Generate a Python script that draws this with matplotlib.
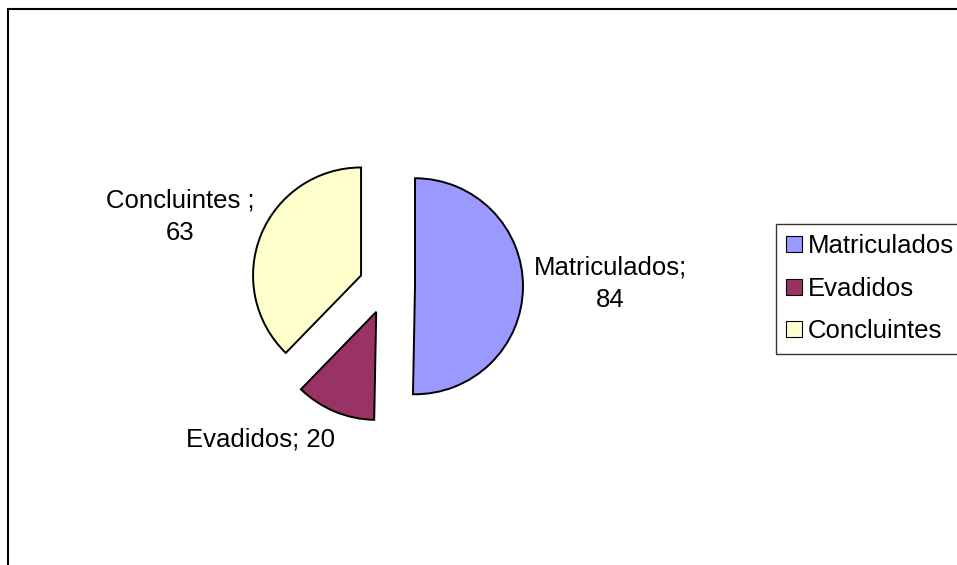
import matplotlib.pyplot as plt
from matplotlib.patches import Rectangle, Patch

categorias = ['Matriculados', 'Evadidos', 'Concluintes']
valores = [84, 20, 63]
cores = ['#9999FF', '#993366', '#FFFFCC']
rotulos = ['Matriculados;\n84', 'Evadidos; 20', 'Concluintes ;\n63']

plt.rcParams['font.family'] = ['Liberation Sans', 'DejaVu Sans']

fig = plt.figure(figsize=(9.57, 5.65), dpi=100)
ax = fig.add_axes([0, 0, 1, 1])

# pie in pixel units (y up); explode is an offset in data units
ax.pie(valores, colors=cores, startangle=90, counterclock=False,
       center=(387, 279), radius=108, explode=[28, 28, 28],
       wedgeprops=dict(edgecolor='black', linewidth=1.4), frame=True)
ax.set_xlim(0, 957)
ax.set_ylim(0, 565)
ax.set_aspect('equal')
ax.axis('off')

# data labels
pos_rotulos = [(610, 281), (261, 125), (180, 348)]
for txt, (x, y) in zip(rotulos, pos_rotulos):
    ax.text(x, y, txt, ha='center', va='center', fontsize=18.5, linespacing=1.45)

# outer chart border
ax.add_patch(Rectangle((7.5, -20), 1000, 576.5, fill=False, edgecolor='black',
                       linewidth=1.5, clip_on=False))

handles = [Patch(facecolor=c, edgecolor='black', linewidth=0.8) for c in cores]
leg = ax.legend(handles, categorias, loc='upper left', bbox_to_anchor=(776 / 957, 1 - 224 / 565),
                borderaxespad=0, fontsize=18.5, frameon=True, fancybox=False,
                edgecolor='black', handlelength=0.6, handleheight=0.6,
                handletextpad=0.25, labelspacing=0.72, borderpad=0.4)
leg.get_frame().set_linewidth(1.0)

fig.savefig('out.png', dpi=100)
